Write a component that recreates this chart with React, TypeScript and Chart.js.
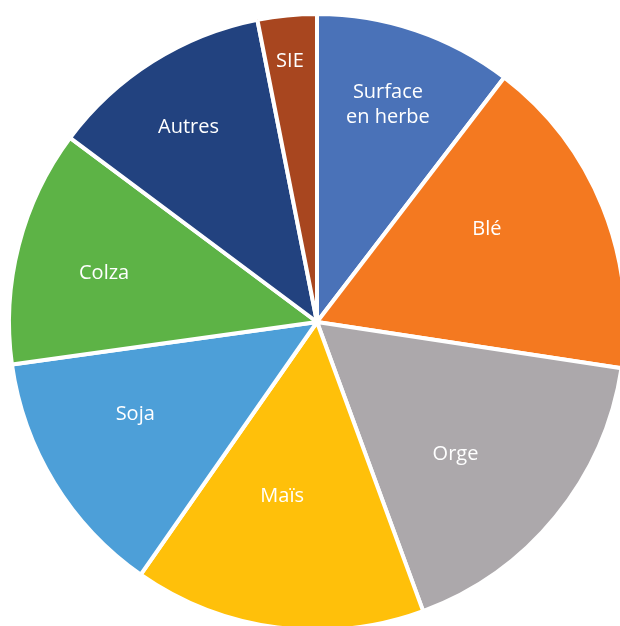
import React, { useEffect, useRef } from "react";
import { Chart, registerables } from "chart.js";

Chart.register(...registerables);

const categories = ["Surface\nen herbe", "Blé", "Orge", "Maïs", "Soja", "Colza", "Autres", "SIE"];
const shares = [10.4, 17.0, 17.0, 15.3, 13.1, 12.4, 11.7, 3.1];
const colors = ["#4A72B8", "#F47920", "#ACA8AB", "#FFC00A", "#4D9FD8", "#5DB346", "#22427F", "#A8461F"];
// label placement: [fraction of radius, angle in degrees clockwise from top]
const labelRadius = [0.745, 0.63, 0.62, 0.573, 0.66, 0.71, 0.76, 0.855];
const labelAngle = [18.0, 61.1, 133.5, 191.4, 243.4, 283.2, 326.7, 354.1];

const labelPlugin = {
  id: "sliceLabels",
  afterDatasetsDraw(chart: any) {
    const meta = chart.getDatasetMeta(0);
    const ctx = chart.ctx;
    const first = meta.data[0];
    if (!first) return;
    const cx = first.x;
    const cy = first.y;
    const R = first.outerRadius;
    ctx.save();
    ctx.fillStyle = "#ffffff";
    ctx.font = '20px "Open Sans", sans-serif';
    ctx.textAlign = "center";
    ctx.textBaseline = "middle";
    categories.forEach((label, i) => {
      const a = (labelAngle[i] * Math.PI) / 180;
      const r = labelRadius[i] * R;
      const x = cx + r * Math.sin(a);
      const y = cy - r * Math.cos(a);
      const lines = label.split("\n");
      const lh = 25;
      lines.forEach((ln, j) => {
        ctx.fillText(ln, x, y + 1 + (j - (lines.length - 1) / 2) * lh);
      });
    });
    ctx.restore();
  },
};

export default function App() {
  const ref = useRef<HTMLCanvasElement | null>(null);
  useEffect(() => {
    if (!ref.current) return;
    const chart = new Chart(ref.current, {
      type: "pie",
      data: {
        labels: categories,
        datasets: [
          {
            data: shares,
            backgroundColor: colors,
            borderColor: "#ffffff",
            borderWidth: 4,
            radius: 308,
          } as any,
        ],
      },
      options: {
        responsive: false,
        animation: false,
        layout: { padding: 0 },
        plugins: {
          legend: { display: false },
          tooltip: { enabled: false },
        },
      },
      plugins: [labelPlugin],
    });
    return () => chart.destroy();
  }, []);
  return (
    <div
      style={{
        position: "fixed",
        left: 0,
        top: 0,
        width: 620,
        height: 626,
        overflow: "hidden",
        background: "#ffffff",
      }}
    >
      <canvas ref={ref} width={634} height={644} style={{ display: "block", width: 634, height: 644 }} />
    </div>
  );
}
